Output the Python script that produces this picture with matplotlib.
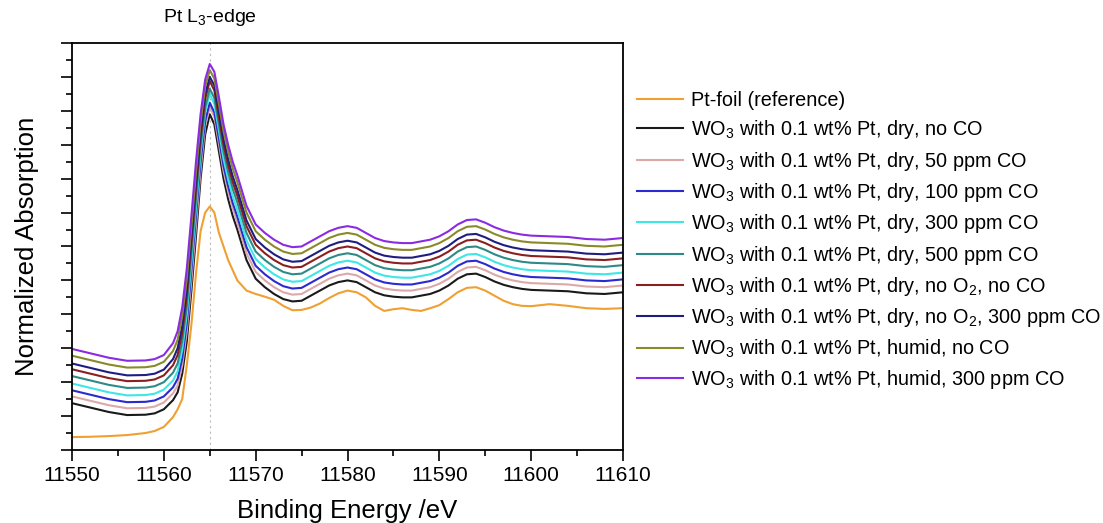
import matplotlib
matplotlib.use("Agg")
import matplotlib.pyplot as plt
from matplotlib.ticker import MultipleLocator

plt.rcParams['font.family'] = ['Liberation Sans', 'DejaVu Sans']
plt.rcParams['mathtext.fontset'] = 'custom'
plt.rcParams['mathtext.rm'] = 'Liberation Sans'
plt.rcParams['mathtext.it'] = 'Liberation Sans:italic'

# energy grid (eV)
energy = [11550, 11552, 11554, 11556, 11558, 11559, 11560, 11561, 11561.5, 11562,
          11562.5, 11563, 11563.5, 11564, 11564.5, 11565, 11565.5, 11566, 11566.5, 11567,
          11567.5, 11568, 11569, 11570, 11571, 11572, 11573, 11574, 11575, 11576,
          11577, 11578, 11579, 11580, 11581, 11582, 11583, 11584, 11585, 11586,
          11587, 11588, 11589, 11590, 11591, 11592, 11593, 11594, 11595, 11596,
          11597, 11598, 11599, 11600, 11602, 11604, 11606, 11608, 11610]

pt_foil = [.038, .039, .041, .044, .050, .056, .068, .097, .120, .150,
           .250, .370, .520, .645, .700, .718, .700, .640, .600, .560,
           .530, .500, .470, .460, .452, .443, .425, .412, .413, .420,
           .432, .448, .462, .470, .465, .450, .425, .410, .415, .418,
           .413, .410, .418, .427, .445, .465, .478, .480, .470, .455,
           .440, .430, .425, .424, .430, .425, .418, .416, .418]

dry_no_co = [.138, .125, .112, .103, .104, .108, .120, .147, .170, .225,
             .320, .470, .630, .800, .930, .990, .960, .880, .800, .740,
             .690, .650, .560, .505, .480, .460, .445, .438, .440, .455,
             .470, .485, .495, .500, .495, .480, .465, .456, .452, .450,
             .450, .455, .460, .470, .485, .505, .518, .520, .510, .497,
             .487, .480, .475, .472, .470, .468, .462, .460, .465]

dry_50 = [.158, .145, .132, .123, .124, .128, .140, .167, .190, .250,
          .350, .500, .660, .825, .955, 1.012, .982, .902, .822, .762,
          .712, .670, .580, .525, .500, .480, .465, .458, .460, .475,
          .490, .505, .515, .520, .515, .500, .485, .476, .472, .470,
          .470, .475, .480, .490, .505, .525, .538, .540, .530, .517,
          .507, .500, .495, .492, .490, .488, .482, .480, .485]

dry_100 = [.176, .163, .150, .141, .142, .146, .158, .185, .210, .270,
           .375, .530, .690, .850, .970, 1.024, .995, .918, .838, .778,
           .728, .688, .598, .543, .518, .498, .483, .476, .478, .493,
           .508, .523, .533, .538, .533, .518, .503, .494, .490, .488,
           .488, .493, .498, .508, .523, .543, .556, .558, .548, .535,
           .525, .518, .513, .510, .508, .506, .500, .498, .503]

dry_300 = [.196, .183, .170, .161, .162, .166, .178, .205, .232, .295,
           .400, .555, .715, .875, .995, 1.050, 1.020, .940, .858, .798,
           .748, .708, .618, .563, .538, .518, .503, .496, .498, .513,
           .528, .543, .553, .558, .553, .538, .523, .514, .510, .508,
           .508, .513, .518, .528, .543, .563, .576, .578, .568, .555,
           .545, .538, .533, .530, .528, .526, .520, .518, .523]

dry_500 = [.218, .205, .192, .183, .184, .188, .200, .228, .255, .320,
           .425, .580, .740, .895, 1.010, 1.065, 1.038, .958, .880, .820,
           .770, .730, .640, .585, .560, .540, .525, .518, .520, .535,
           .550, .565, .575, .580, .575, .560, .545, .536, .532, .530,
           .530, .535, .540, .550, .565, .585, .598, .600, .590, .577,
           .567, .560, .555, .552, .550, .548, .542, .540, .545]

dry_no_o2 = [.238, .225, .212, .203, .204, .208, .220, .250, .280, .345,
             .455, .610, .770, .920, 1.035, 1.088, 1.060, .980, .900, .840,
             .790, .750, .660, .605, .580, .560, .545, .538, .540, .555,
             .570, .585, .595, .600, .595, .580, .565, .556, .552, .550,
             .550, .555, .560, .570, .585, .605, .618, .620, .610, .597,
             .587, .580, .575, .572, .570, .568, .562, .560, .565]

dry_no_o2_300 = [.255, .242, .229, .220, .221, .225, .237, .268, .300, .365,
                 .475, .630, .790, .940, 1.050, 1.100, 1.075, .997, .917, .857,
                 .807, .767, .677, .622, .597, .577, .562, .555, .557, .572,
                 .587, .602, .612, .617, .612, .597, .582, .573, .569, .567,
                 .567, .572, .577, .587, .602, .622, .635, .637, .627, .614,
                 .604, .597, .592, .589, .587, .585, .579, .577, .582]

humid_no_co = [.278, .265, .252, .243, .244, .248, .260, .292, .325, .395,
               .505, .660, .820, .965, 1.072, 1.120, 1.095, 1.020, .940, .880,
               .830, .790, .700, .645, .620, .600, .585, .578, .580, .595,
               .610, .625, .635, .640, .635, .620, .605, .596, .592, .590,
               .590, .595, .600, .610, .625, .645, .658, .660, .650, .637,
               .627, .620, .615, .612, .610, .608, .602, .600, .605]

humid_300 = [.298, .285, .272, .263, .264, .268, .280, .315, .350, .420,
             .535, .690, .850, .990, 1.092, 1.138, 1.115, 1.040, .960, .900,
             .850, .810, .720, .665, .640, .620, .605, .598, .600, .615,
             .630, .645, .655, .660, .655, .640, .625, .616, .612, .610,
             .610, .615, .620, .630, .645, .665, .678, .680, .670, .657,
             .647, .640, .635, .632, .630, .628, .622, .620, .625]

labels = ['Pt-foil (reference)',
          'WO$_3$ with 0.1 wt% Pt, dry, no CO',
          'WO$_3$ with 0.1 wt% Pt, dry, 50 ppm CO',
          'WO$_3$ with 0.1 wt% Pt, dry, 100 ppm CO',
          'WO$_3$ with 0.1 wt% Pt, dry, 300 ppm CO',
          'WO$_3$ with 0.1 wt% Pt, dry, 500 ppm CO',
          'WO$_3$ with 0.1 wt% Pt, dry, no O$_2$, no CO',
          'WO$_3$ with 0.1 wt% Pt, dry, no O$_2$, 300 ppm CO',
          'WO$_3$ with 0.1 wt% Pt, humid, no CO',
          'WO$_3$ with 0.1 wt% Pt, humid, 300 ppm CO']
colors = ['#F0A030', '#1A1A1A', '#DDA8A8', '#2A2AD0', '#3FE6E6',
          '#2E8A86', '#8B1E1E', '#1E1E80', '#8A8A2A', '#8A2BE2']
series = [pt_foil, dry_no_co, dry_50, dry_100, dry_300, dry_500,
          dry_no_o2, dry_no_o2_300, humid_no_co, humid_300]

fig = plt.figure(figsize=(11.03, 5.23), dpi=100)
ax = fig.add_axes([0.0653, 0.1396, 0.4995, 0.7782])

for y, c, lab in zip(series, colors, labels):
    ax.plot(energy, y, color=c, lw=1.5, label=lab)

# edge position marker
ax.axvline(11565, color='#BBBBBB', lw=0.8, ls=(0, (2, 3)), zorder=0)
ax.text(11565, 1.245, 'Pt L$_3$-edge', ha='center', va='bottom', fontsize=14)

ax.set_xlim(11550, 11610)
ax.set_ylim(0, 1.2)
ax.xaxis.set_major_locator(MultipleLocator(10))
ax.xaxis.set_minor_locator(MultipleLocator(5))
ax.yaxis.set_major_locator(MultipleLocator(0.1))
ax.yaxis.set_minor_locator(MultipleLocator(0.05))
ax.tick_params(which='major', direction='out', length=8, width=1.2, labelsize=15)
ax.tick_params(which='minor', direction='out', length=4.5, width=1.2)
ax.tick_params(axis='y', labelleft=False)
for s in ax.spines.values():
    s.set_linewidth(1.3)

ax.set_xlabel('Binding Energy /eV', fontsize=18.5, labelpad=10)
ax.set_ylabel('Normalized Absorption', fontsize=18.5, labelpad=16)

leg = ax.legend(loc='upper left', bbox_to_anchor=(637 / 1103, 1 - 91 / 523),
                bbox_transform=fig.transFigure, frameon=False, fontsize=14.3,
                handlelength=2.3, handletextpad=0.4, labelspacing=0.42,
                borderpad=0, borderaxespad=0)

fig.savefig('out.png', dpi=100)
